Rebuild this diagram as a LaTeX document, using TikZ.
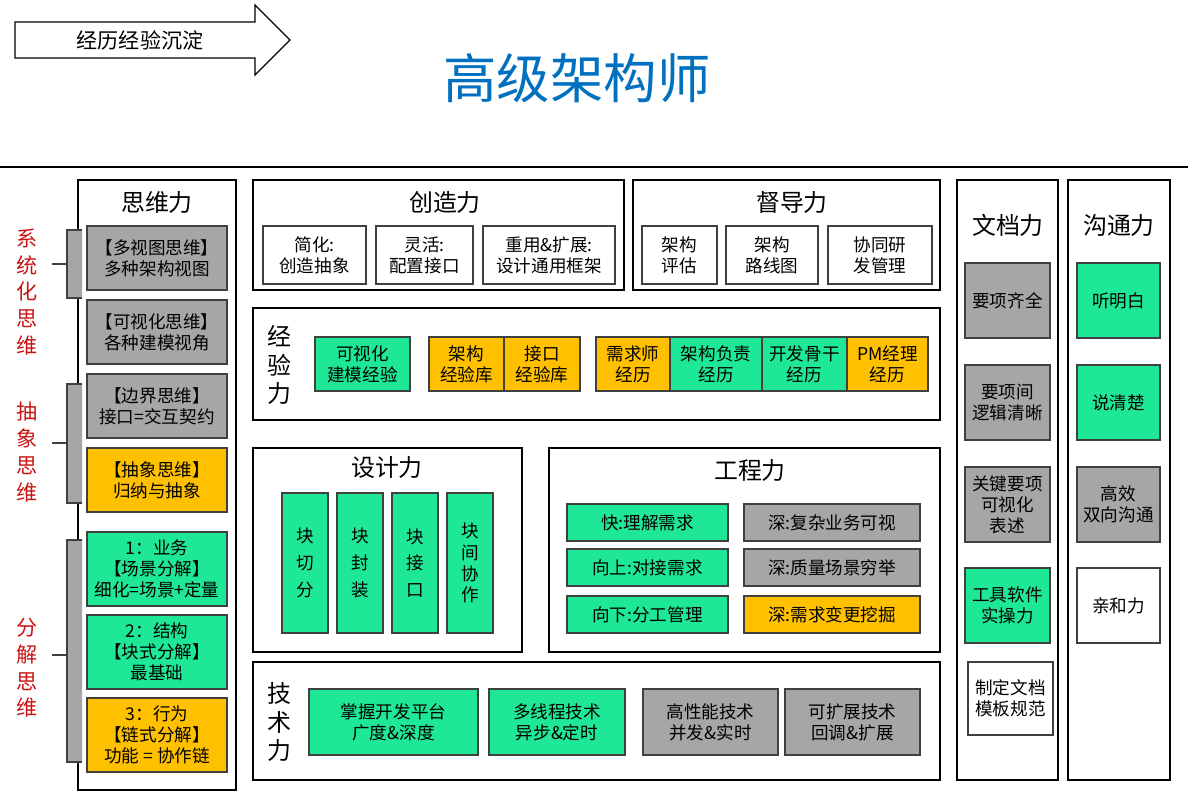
\documentclass[tikz,border=0pt]{standalone}
\usepackage{fontspec}
\setmainfont{Noto Sans CJK SC}
\usetikzlibrary{positioning}
\definecolor{grn}{RGB}{30,232,150}
\definecolor{org}{RGB}{255,192,0}
\definecolor{gry}{RGB}{166,166,166}
\definecolor{ttl}{RGB}{0,112,192}
\definecolor{rd}{RGB}{200,20,20}
% box from (x1,y1) to (x2,y2) in pixels
\newcommand{\blk}[7]{\node[#5, minimum width={(#3-#1)*0.025cm}, minimum height={(#4-#2)*0.025cm}] (#6) at ({(#1+#3)/2},{(#2+#4)/2}) {#7};}
\begin{document}
\begin{tikzpicture}[x=0.025cm, y=-0.025cm]
\tikzstyle{outer}=[draw, line width=1.6pt, inner sep=0pt, outer sep=0pt]
\tikzstyle{inner}=[draw=black!75, line width=1.2pt, inner sep=0pt, outer sep=0pt, align=center, font=\fontsize{12.5}{15}\selectfont]
\tikzstyle{green}=[inner, fill=grn]
\tikzstyle{orange}=[inner, fill=org]
\tikzstyle{gray}=[inner, fill=gry]
\tikzstyle{white}=[inner, fill=white]
\tikzstyle{head}=[font=\fontsize{17}{20}\selectfont, align=center]
\tikzstyle{side}=[font=\fontsize{15}{19}\selectfont, text=rd, align=center]
\tikzstyle{brace}=[gray, line width=2pt]
\useasboundingbox (0,0) rectangle (1188,800);
% header
\draw[line width=0.8pt] (15,22) -- (255,22) -- (255,5) -- (290,40) -- (255,75) -- (255,58) -- (15,58) -- cycle;
\node[font=\fontsize{15}{18}\selectfont] (flow) at (140,40) {经历经验沉淀};
\node[font=\fontsize{38}{44}\selectfont, text=ttl] (title) at (577,78) {高级架构师};
\draw[line width=0.8pt] (0,167) -- (1188,167);
% thinking column
\blk{78}{180}{236}{790}{outer}{think}{}
\node[head] (thinkT) at (157,202) {思维力};
\blk{87}{226}{227}{290}{gray}{t1}{【多视图思维】\\多种架构视图}
\blk{87}{300}{227}{364}{gray}{t2}{【可视化思维】\\各种建模视角}
\blk{87}{374}{227}{438}{gray}{t3}{【边界思维】\\接口=交互契约}
\blk{87}{448}{227}{512}{orange}{t4}{【抽象思维】\\归纳与抽象}
\blk{87}{532}{227}{606}{green}{t5}{1：业务\\【场景分解】\\细化=场景+定量}
\blk{87}{615}{227}{689}{green}{t6}{2：结构\\【块式分解】\\最基础}
\blk{87}{698}{227}{772}{orange}{t7}{3：行为\\【链式分解】\\功能 = 协作链}
\node[side] (s1) at (27,292) {系\\统\\化\\思\\维};
\node[side] (s2) at (27,452) {抽\\象\\思\\维};
\node[side] (s3) at (27,668) {分\\解\\思\\维};
\draw[brace] (82,230) -- (67,230) -- (67,298) -- (82,298) (67,264) -- (52,264);
\draw[brace] (82,384) -- (67,384) -- (67,503) -- (82,503) (67,443) -- (52,443);
\draw[brace] (82,540) -- (67,540) -- (67,762) -- (82,762) (67,655) -- (52,655);
% creativity
\blk{253}{180}{624}{290}{outer}{create}{}
\node[head] (createT) at (445,202) {创造力};
\blk{263}{226}{366}{284}{white}{c1}{简化:\\创造抽象}
\blk{376}{226}{473}{284}{white}{c2}{灵活:\\配置接口}
\blk{483}{226}{615}{284}{white}{c3}{重用\&扩展:\\设计通用框架}
% supervision
\blk{633}{180}{940}{290}{outer}{guide}{}
\node[head] (guideT) at (792,202) {督导力};
\blk{642}{226}{717}{284}{white}{g1}{架构\\评估}
\blk{726}{226}{818}{284}{white}{g2}{架构\\路线图}
\blk{828}{226}{932}{284}{white}{g3}{协同研\\发管理}
% experience
\blk{253}{308}{940}{420}{outer}{exp}{}
\node[head] (expT) at (279,365) {经\\验\\力};
\blk{315}{337}{410}{391}{green}{e1}{可视化\\建模经验}
\blk{429}{337}{504}{391}{orange}{e2}{架构\\经验库}
\blk{504}{337}{580}{391}{orange}{e3}{接口\\经验库}
\blk{596}{337}{670}{391}{orange}{e4}{需求师\\经历}
\blk{670}{337}{762}{391}{green}{e5}{架构负责\\经历}
\blk{762}{337}{847}{391}{green}{e6}{开发骨干\\经历}
\blk{847}{337}{928}{391}{orange}{e7}{PM经理\\经历}
% design
\blk{253}{448}{522}{652}{outer}{design}{}
\node[head] (designT) at (387,467) {设计力};
\blk{282}{493}{328}{633}{green}{d1}{块\\[4pt]切\\[4pt]分}
\blk{337}{493}{383}{633}{green}{d2}{块\\[4pt]封\\[4pt]装}
\blk{392}{493}{438}{633}{green}{d3}{块\\[4pt]接\\[4pt]口}
\blk{447}{493}{493}{633}{green}{d4}{块\\间\\协\\作}
% engineering
\blk{549}{448}{940}{652}{outer}{eng}{}
\node[head] (engT) at (750,470) {工程力};
\blk{567}{504}{728}{541}{green}{n1}{快:理解需求}
\blk{744}{504}{920}{541}{gray}{n2}{深:复杂业务可视}
\blk{567}{549}{728}{586}{green}{n3}{向上:对接需求}
\blk{744}{549}{920}{586}{gray}{n4}{深:质量场景穷举}
\blk{567}{596}{728}{633}{green}{n5}{向下:分工管理}
\blk{744}{596}{920}{633}{orange}{n6}{深:需求变更挖掘}
% technology
\blk{253}{662}{940}{780}{outer}{tech}{}
\node[head] (techT) at (279,722) {技\\术\\力};
\blk{309}{689}{478}{755}{green}{k1}{掌握开发平台\\广度\&深度}
\blk{489}{689}{625}{755}{green}{k2}{多线程技术\\异步\&定时}
\blk{643}{689}{778}{755}{gray}{k3}{高性能技术\\并发\&实时}
\blk{785}{689}{920}{755}{gray}{k4}{可扩展技术\\回调\&扩展}
% documentation
\blk{957}{180}{1058}{780}{outer}{doc}{}
\node[head] (docT) at (1008,225) {文档力};
\blk{965}{263}{1050}{338}{gray}{w1}{要项齐全}
\blk{965}{365}{1050}{440}{gray}{w2}{要项间\\逻辑清晰}
\blk{965}{467}{1050}{542}{gray}{w3}{关键要项\\可视化\\表述}
\blk{965}{568}{1050}{643}{green}{w4}{工具软件\\实操力}
\blk{968}{662}{1053}{735}{white}{w5}{制定文档\\模板规范}
% communication
\blk{1068}{180}{1170}{780}{outer}{talk}{}
\node[head] (talkT) at (1119,225) {沟通力};
\blk{1077}{263}{1160}{338}{green}{m1}{听明白}
\blk{1077}{365}{1160}{440}{green}{m2}{说清楚}
\blk{1077}{467}{1160}{542}{gray}{m3}{高效\\双向沟通}
\blk{1077}{568}{1160}{643}{white}{m4}{亲和力}
\end{tikzpicture}
\end{document}
